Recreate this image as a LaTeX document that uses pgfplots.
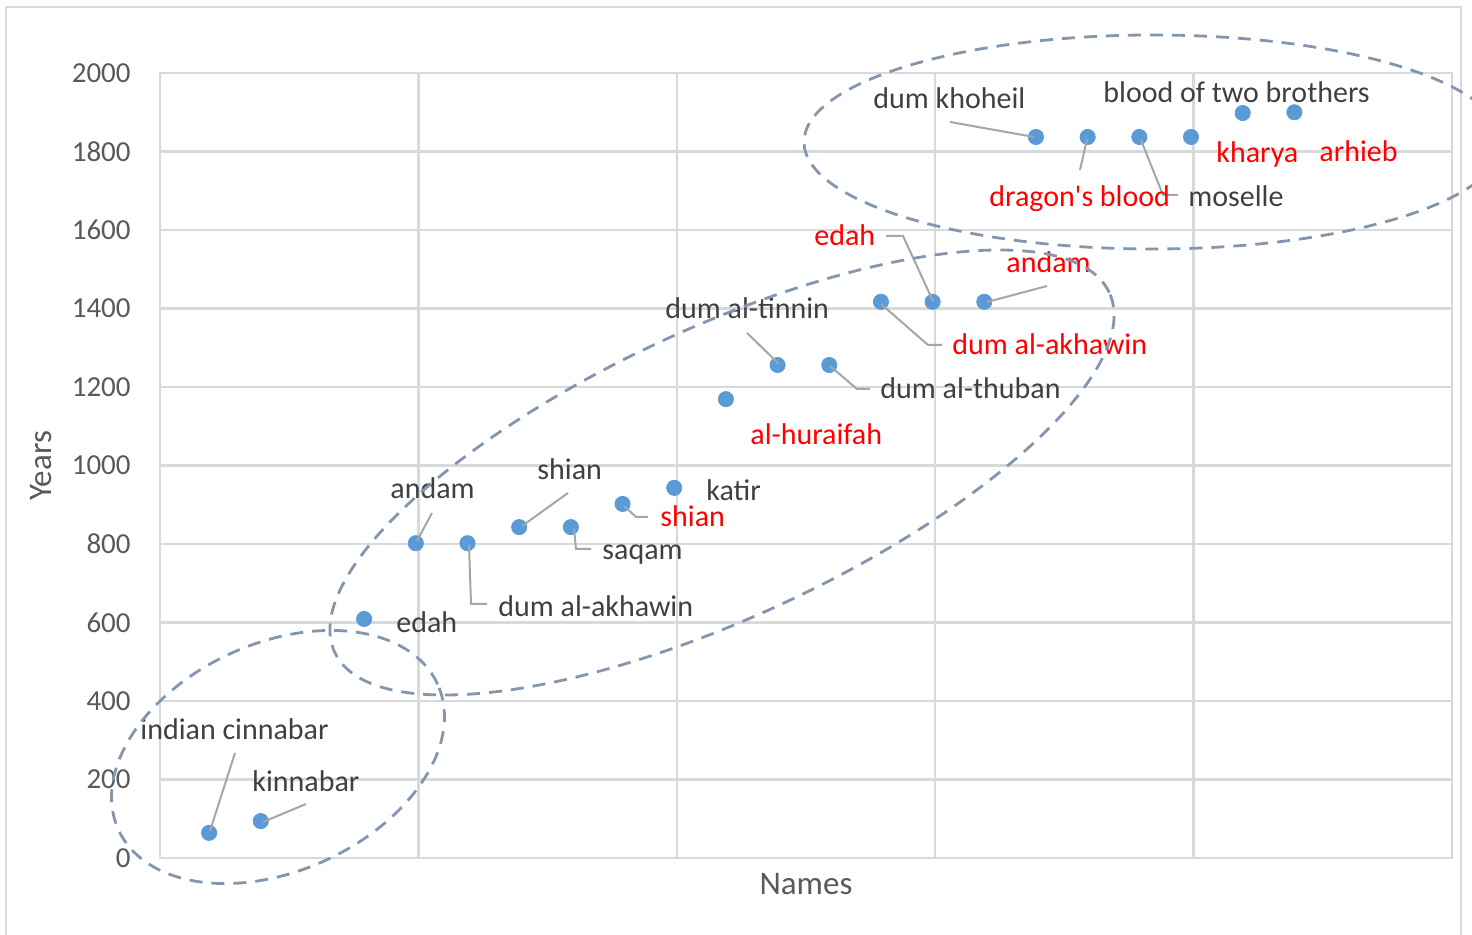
\documentclass[border=0pt]{standalone}
\usepackage{fontspec}
\setmainfont{Carlito}[Ligatures=TeXOff]
\usepackage{pgfplots}
\pgfplotsset{compat=1.18}
\definecolor{gridc}{HTML}{D9D9D9}
\definecolor{tickc}{HTML}{595959}
\definecolor{labc}{HTML}{404040}
\definecolor{redc}{HTML}{FF0000}
\definecolor{dotc}{HTML}{5B9BD5}
\definecolor{leadc}{HTML}{A6A6A6}
\definecolor{ellc}{HTML}{8296B0}
\pgfplotstableread{
x y
0.19 64
0.39 94
0.79 609
0.99 802
1.19 802
1.39 843
1.59 843
1.79 902
1.99 943
2.19 1169
2.39 1256
2.59 1256
2.79 1417
2.99 1417
3.19 1417
3.39 1837
3.59 1837
3.79 1837
3.99 1837
4.19 1898
4.39 1900
}\datatable
\begin{document}
\begin{tikzpicture}[px/.style={shift={(-80pt,429pt)},x=0.5pt,y=-0.5pt},
  lab/.style={anchor=base west,inner sep=0pt,font=\fontsize{15}{18}\selectfont,yshift=-1pt},
  lead/.style={draw=leadc,line width=1pt}]
\useasboundingbox[px] (0,0) rectangle (1472,935);
\begin{scope}[px]
\draw[gridc,line width=1pt] (6,7) rectangle (1461,980);
\end{scope}
\begin{axis}[
  scale only axis, width=646pt, height=392.5pt,
  xmin=0, xmax=5, ymin=0, ymax=2000,
  xtick={0,1,2,3,4,5}, xticklabels={},
  ytick={0,200,...,2000},
  grid=major,
  major grid style={draw=gridc,line width=1.25pt},
  axis line style={draw=gridc,line width=1.25pt},
  tick style={draw=none}, major tick length=0pt,
  /pgf/number format/assume math mode=true,
  /pgf/number format/1000 sep={},
  yticklabel style={font=\fontsize{14.5}{17}\selectfont, text=tickc, inner sep=0pt, anchor=east, xshift=-14.5pt},
  clip=false,
]
\addplot[only marks, mark=*, mark size=3.8pt, mark options={fill=dotc,draw=dotc}] table[x=x,y=y] {\datatable};
\end{axis}
\begin{scope}[px]
% axis titles
\node[rotate=90,text=tickc,font=\fontsize{16.5}{19}\selectfont,inner sep=0pt] at (41,466) {Years};
\node[text=tickc,font=\fontsize{16.5}{19}\selectfont,inner sep=0pt] at (806,884) {Names};
% leader lines
\draw[lead] (235,753) -- (210,831);
\draw[lead] (306,804) -- (263,822);
\draw[lead] (432,513) -- (417,541);
\draw[lead] (469,545) -- (471,604) -- (487,604);
\draw[lead] (568,493) -- (522,526);
\draw[lead] (574,529) -- (576,549) -- (591,549);
\draw[lead] (624,506) -- (636,517) -- (648,517);
\draw[lead] (747,333) -- (779,364);
\draw[lead] (830,366) -- (857,389) -- (870,389);
\draw[lead] (881,304) -- (928,345) -- (942,345);
\draw[lead] (886,236) -- (903,236) -- (933,301);
\draw[lead] (1047,286) -- (987,302);
\draw[lead] (950,122) -- (1034,137);
\draw[lead] (1080,170) -- (1087,139);
\draw[lead] (1141,140) -- (1163,195) -- (1178,195);
% labels
\node[lab,text=labc] at (140,738) {indian cinnabar};
\node[lab,text=labc] at (252,790) {kinnabar};
\node[lab,text=labc] at (396,631) {edah};
\node[lab,text=labc] at (390,497) {andam};
\node[lab,text=labc] at (498,615) {dum al-akhawin};
\node[lab,text=labc] at (537,478) {shian};
\node[lab,text=labc] at (602,558) {saqam};
\node[lab,text=redc] at (660,525) {shian};
\node[lab,text=labc] at (706,499) {katir};
\node[lab,text=redc] at (750,443) {al-huraifah};
\node[lab,text=labc] at (665,317) {dum al-tinnin};
\node[lab,text=labc] at (880,397) {dum al-thuban};
\node[lab,text=redc] at (952,353) {dum al-akhawin};
\node[lab,text=redc] at (814,244) {edah};
\node[lab,text=redc] at (1006,271) {andam};
\node[lab,text=labc] at (873,107) {dum khoheil};
\node[lab,text=labc] at (1103,101) {blood of two brothers};
\node[lab,text=redc] at (989,205) {dragon's blood};
\node[lab,text=labc] at (1188,205) {moselle};
\node[lab,text=redc] at (1216,161) {kharya};
\node[lab,text=redc] at (1319,160) {arhieb};
% ellipses
\begin{scope}[ellc,line width=1.4pt,dash pattern=on 6.5pt off 4.5pt]
\draw[rotate around={24.5:(278,757)}] (278,757) ellipse [x radius=87.7pt, y radius=56.9pt];
\draw[rotate around={24.9:(722,472.5)}] (722,472.5) ellipse [x radius=213.5pt, y radius=72.25pt];
\draw (1153,142) ellipse [x radius=174.5pt, y radius=53.5pt];
\end{scope}
\end{scope}
\end{tikzpicture}
\end{document}
